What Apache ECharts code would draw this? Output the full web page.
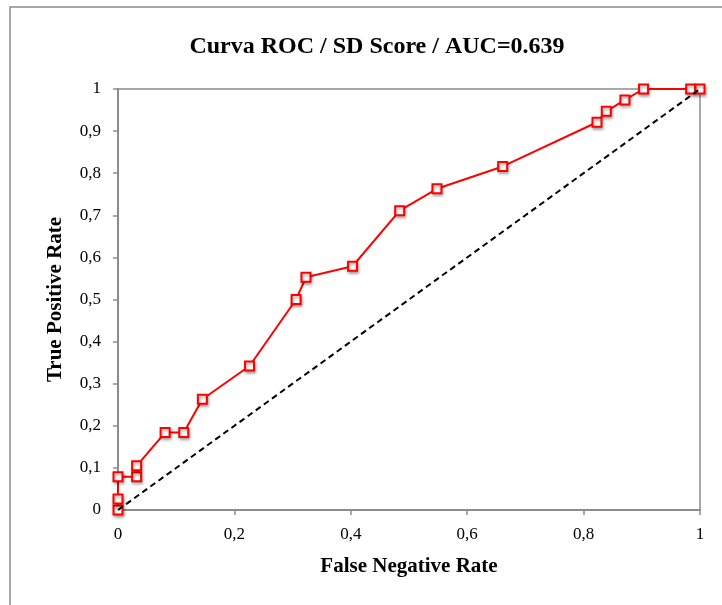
<!DOCTYPE html>
<html>
<head>
<meta charset="utf-8">
<script src="https://cdn.jsdelivr.net/npm/echarts@6/dist/echarts.min.js"></script>
<style>
  html, body { margin: 0; padding: 0; background: #fff; }
  #chart { width: 722px; height: 605px; }
</style>
</head>
<body>
<div id="chart"></div>
<script>
// ROC points
var fpr = [0, 0, 0, 0.032, 0.032, 0.081, 0.113, 0.145, 0.226, 0.306, 0.323, 0.403, 0.484, 0.548, 0.661, 0.823, 0.839, 0.871, 0.903, 0.984, 1];
var tpr = [0, 0.026, 0.079, 0.079, 0.105, 0.184, 0.184, 0.263, 0.342, 0.5, 0.553, 0.579, 0.711, 0.763, 0.816, 0.921, 0.947, 0.974, 1, 1, 1];
var diagX = [0, 1];
var diagY = [0, 1];

var serif = '"Liberation Serif", "DejaVu Serif", serif';

function pairs(xs, ys) {
  var out = [];
  for (var i = 0; i < xs.length; i++) {
    out.push([xs[i], ys[i]]);
  }
  return out;
}

function comma(v) {
  return String(Math.round(v * 10) / 10).replace('.', ',');
}

var chart = echarts.init(document.getElementById('chart'));

var option = {
  animation: false,
  backgroundColor: '#fff',
  graphic: [{
    type: 'rect',
    shape: { x: 10, y: 7, width: 730, height: 620 },
    style: { fill: 'none', stroke: '#8c8c8c', lineWidth: 1.5 },
    silent: true
  }],
  title: {
    text: 'Curva ROC / SD Score / AUC=0.639',
    left: 372,
    top: 30,
    textAlign: 'center',
    textStyle: {
      fontFamily: serif,
      fontWeight: 'bold',
      fontSize: 24,
      color: '#000'
    }
  },
  grid: {
    left: 118,
    right: 22,
    top: 89,
    bottom: 95,
    show: true,
    borderColor: '#8c8c8c',
    borderWidth: 1.5
  },
  xAxis: {
    type: 'value',
    min: 0,
    max: 1,
    interval: 0.2,
    name: 'False Negative Rate',
    nameLocation: 'middle',
    nameGap: 46,
    nameTextStyle: { fontFamily: serif, fontWeight: 'bold', fontSize: 21, color: '#000' },
    axisLine: { show: true, lineStyle: { color: '#8c8c8c', width: 2 } },
    axisTick: { show: true, length: 5, lineStyle: { color: '#8c8c8c', width: 1.5 } },
    axisLabel: { fontFamily: serif, fontSize: 17, color: '#000', margin: 16, formatter: comma },
    splitLine: { show: false }
  },
  yAxis: {
    type: 'value',
    min: 0,
    max: 1,
    interval: 0.1,
    name: 'True Positive Rate',
    nameLocation: 'middle',
    nameGap: 52,
    nameTextStyle: { fontFamily: serif, fontWeight: 'bold', fontSize: 21, color: '#000' },
    axisLine: { show: true, lineStyle: { color: '#8c8c8c', width: 2 } },
    axisTick: { show: true, length: 5, lineStyle: { color: '#8c8c8c', width: 1.5 } },
    axisLabel: { fontFamily: serif, fontSize: 17, color: '#000', margin: 17, formatter: comma },
    splitLine: { show: false }
  },
  series: [
    {
      type: 'line',
      data: pairs(fpr, tpr),
      symbol: 'rect',
      symbolSize: 9,
      showAllSymbol: true,
      lineStyle: { color: '#ff0000', width: 2 },
      itemStyle: {
        color: '#fff',
        borderColor: '#ff0000',
        borderWidth: 2,
        shadowBlur: 3,
        shadowOffsetX: 1,
        shadowOffsetY: 2,
        shadowColor: 'rgba(0,0,0,0.35)'
      },
      z: 2
    },
    {
      type: 'line',
      data: pairs(diagX, diagY),
      symbol: 'none',
      lineStyle: { color: '#000', width: 2, type: [6, 4] },
      z: 3
    }
  ]
};

chart.setOption(option);
</script>
</body>
</html>
